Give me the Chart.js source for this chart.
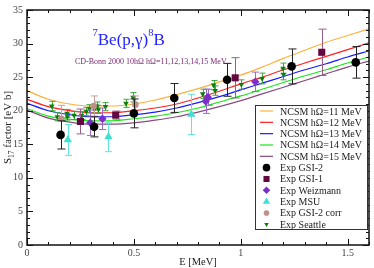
<!DOCTYPE html>
<html>
<head>
<meta charset="utf-8">
<script src="https://cdn.jsdelivr.net/npm/chart.js@4/dist/chart.umd.min.js"></script>
<style>
  html, body { margin: 0; padding: 0; background: #fff; }
  canvas { display: block; }
</style>
</head>
<body>
<canvas id="chart" width="374" height="268"></canvas>
<script>
// ------------------- DATA -------------------
const energyGrid = [0, 0.1, 0.2, 0.3, 0.4, 0.5, 0.6, 0.7, 0.8, 0.9, 1.0, 1.1, 1.2, 1.3, 1.4, 1.5, 1.6];
const ncsm11 = [23.0, 21.7, 21.0, 20.7, 20.7, 21.0, 21.6, 22.4, 23.3, 24.3, 25.3, 26.5, 27.8, 29.0, 30.2, 31.2, 32.2];
const ncsm12 = [21.7, 20.6, 20.0, 19.7, 19.7, 20.0, 20.4, 21.0, 21.9, 22.9, 24.0, 25.0, 26.1, 27.1, 28.1, 29.1, 30.1];
const ncsm13 = [21.1, 20.0, 19.4, 19.1, 19.1, 19.4, 19.8, 20.4, 21.2, 22.1, 23.1, 24.1, 25.1, 26.1, 27.0, 28.0, 28.9];
const ncsm14 = [20.3, 19.2, 18.7, 18.5, 18.5, 18.8, 19.2, 19.7, 20.4, 21.3, 22.2, 23.2, 24.2, 25.2, 26.1, 27.1, 28.0];
const ncsm15 = [20.1, 18.9, 18.3, 18.0, 18.0, 18.2, 18.6, 19.1, 19.8, 20.6, 21.5, 22.5, 23.5, 24.5, 25.5, 26.5, 27.4];

const gsi2E = [0.157, 0.314, 0.500, 0.689, 0.936, 1.238, 1.538];
const gsi2S = [16.4, 17.6, 19.6, 21.9, 24.6, 26.6, 27.2];
const gsi2Err = [2.1, 1.5, 2.15, 2.15, 2.45, 2.6, 2.35];

const gsi1E = [0.250, 0.415, 0.974, 1.379];
const gsi1S = [18.4, 19.35, 24.9, 28.7];
const gsi1Err = [1.85, 0.6, 3.0, 3.45];

const weizE = [0.296, 0.353, 0.836, 0.846, 1.068];
const weizS = [18.2, 18.8, 21.4, 22.0, 24.3];
const weizErr = [1.9, 1.6, 1.8, 1.2, 1.45];

const msuE = [0.191, 0.381, 0.769];
const msuS = [15.65, 16.1, 19.45];
const msuErr = [2.3, 2.2, 3.0];

const gsi2corrE = [0.160, 0.312, 0.507];
const gsi2corrS = [18.8, 20.7, 20.9];
const gsi2corrErr = [2.0, 1.5, 1.3];

const seattleE = [0.116, 0.142, 0.187, 0.189, 0.220, 0.255, 0.278, 0.292, 0.315, 0.326, 0.334, 0.367,
                  0.463, 0.496, 0.822, 0.873, 0.880, 1.003, 1.100, 1.198, 1.200];
const seattleS = [20.7, 19.1, 19.6, 19.1, 19.3, 19.3, 19.9, 20.3, 20.2, 20.7, 20.2, 20.6,
                  21.1, 22.0, 22.5, 23.8, 23.0, 23.9, 24.8, 26.3, 25.4];
const seattleErr = [0.7, 0.6, 0.6, 0.5, 0.6, 0.6, 0.6, 0.6, 0.6, 0.6, 0.6, 0.6,
                    0.6, 0.7, 0.7, 0.7, 0.7, 0.7, 0.8, 0.8, 0.8];

const xTicks = [0, 0.5, 1, 1.5];
const yTicks = [0, 5, 10, 15, 20, 25, 30, 35];

const SERIF = "'Liberation Serif', 'Times New Roman', serif";

// ------------------- DATASETS -------------------
function pts(xs, ys) {
    return xs.map((x, i) => ({ x: x, y: ys[i] }));
}

function curve(label, values, color) {
    return {
        label: label,
        data: pts(energyGrid, values),
        showLine: true,
        borderColor: color,
        borderWidth: 1.2,
        pointRadius: 0,
        cubicInterpolationMode: 'monotone',
        order: 2
    };
}

function markers(label, xs, ys, errs, opts) {
    return Object.assign({
        label: label,
        data: pts(xs, ys),
        errors: errs,
        showLine: false,
        borderWidth: 0,
        order: 1
    }, opts);
}

const datasets = [
    curve('NCSM hΩ=11 MeV', ncsm11, '#ffb03c'),
    curve('NCSM hΩ=12 MeV', ncsm12, '#ff2020'),
    curve('NCSM hΩ=13 MeV', ncsm13, '#1a1aff'),
    curve('NCSM hΩ=14 MeV', ncsm14, '#19e619'),
    curve('NCSM hΩ=15 MeV', ncsm15, '#8a4a7e'),
    markers('Exp GSI-2', gsi2E, gsi2S, gsi2Err, {
        pointStyle: 'circle', pointRadius: 4.3, backgroundColor: '#000',
        errColor: '#222', cap: 4, legendR: 3.8
    }),
    markers('Exp GSI-1', gsi1E, gsi1S, gsi1Err, {
        pointStyle: 'rect', pointRadius: 5, backgroundColor: '#62083f',
        errColor: '#9a5c88', cap: 4, legendR: 4.3
    }),
    markers('Exp Weizmann', weizE, weizS, weizErr, {
        pointStyle: 'rectRot', pointRadius: 4.2, backgroundColor: '#7a2fc8',
        errColor: '#9a68d2', cap: 3.5, legendR: 3.8
    }),
    markers('Exp MSU', msuE, msuS, msuErr, {
        pointStyle: 'triangle', pointRadius: 4.8, backgroundColor: '#3fe0cf',
        errColor: '#5fe6d8', cap: 3.5, legendR: 4.2
    }),
    markers('Exp GSI-2 corr', gsi2corrE, gsi2corrS, gsi2corrErr, {
        pointStyle: 'circle', pointRadius: 3.3, backgroundColor: '#c09088',
        errColor: '#c8a09a', cap: 3.5, legendR: 2.8
    }),
    markers('Exp Seattle', seattleE, seattleS, seattleErr, {
        pointStyle: 'triangle', rotation: 180, pointRadius: 3.2, backgroundColor: '#0a800a',
        errColor: '#3aa83a', cap: 3, legendR: 2.6
    })
];

// ------------------- PLUGINS -------------------
const errorBars = {
    id: 'errorBars',
    beforeDatasetDraw(chart, args) {
        const ds = chart.data.datasets[args.index];
        if (!ds.errors) return;
        const ctx = chart.ctx, xs = chart.scales.x, ys = chart.scales.y;
        const a = chart.chartArea;
        ctx.save();
        ctx.beginPath();
        ctx.rect(a.left, a.top, a.right - a.left, a.bottom - a.top);
        ctx.clip();
        ctx.strokeStyle = ds.errColor;
        ctx.lineWidth = 1;
        ds.data.forEach((p, i) => {
            const px = Math.round(xs.getPixelForValue(p.x)) + 0.5;
            const y1 = ys.getPixelForValue(p.y + ds.errors[i]);
            const y2 = ys.getPixelForValue(p.y - ds.errors[i]);
            ctx.beginPath();
            ctx.moveTo(px, y1); ctx.lineTo(px, y2);
            ctx.moveTo(px - ds.cap, y1); ctx.lineTo(px + ds.cap, y1);
            ctx.moveTo(px - ds.cap, y2); ctx.lineTo(px + ds.cap, y2);
            ctx.stroke();
        });
        ctx.restore();
    }
};

const decorations = {
    id: 'decorations',
    afterDraw(chart) {
        const ctx = chart.ctx, xs = chart.scales.x, ys = chart.scales.y;
        const a = chart.chartArea;
        ctx.save();

        // frame and inward ticks on all four sides
        ctx.strokeStyle = '#111';
        ctx.lineWidth = 1;
        ctx.beginPath();
        for (let v = 0; v <= 16; v++) {
            const px = Math.round(xs.getPixelForValue(v / 10)) + 0.5;
            const len = v % 5 === 0 ? 6 : 3;
            ctx.moveTo(px, a.bottom); ctx.lineTo(px, a.bottom - len);
            ctx.moveTo(px, a.top); ctx.lineTo(px, a.top + len);
        }
        for (let v = 0; v <= 35; v++) {
            const py = Math.round(ys.getPixelForValue(v)) + 0.5;
            const len = v % 5 === 0 ? 6 : 3;
            ctx.moveTo(a.left, py); ctx.lineTo(a.left + len, py);
            ctx.moveTo(a.right, py); ctx.lineTo(a.right - len, py);
        }
        ctx.stroke();
        ctx.lineWidth = 1.5;
        ctx.strokeRect(a.left, a.top, a.right - a.left, a.bottom - a.top);

        // axis titles
        ctx.fillStyle = '#222';
        ctx.textBaseline = 'alphabetic';
        ctx.font = '10.5px ' + SERIF;
        ctx.textAlign = 'center';
        ctx.fillText('E [MeV]', (a.left + a.right) / 2, 265);

        ctx.save();
        ctx.translate(11, (a.top + a.bottom) / 2);
        ctx.rotate(-Math.PI / 2);
        ctx.textAlign = 'left';
        ctx.font = '11px ' + SERIF;
        const s1 = 'S', s3 = ' factor [eV b]';
        ctx.font = '11px ' + SERIF;
        const w1 = ctx.measureText(s1).width, w3 = ctx.measureText(s3).width;
        ctx.font = '7.5px ' + SERIF;
        const w2 = ctx.measureText('17').width;
        let x0 = -(w1 + w2 + w3) / 2;
        ctx.font = '11px ' + SERIF;
        ctx.fillText(s1, x0, 0);
        ctx.font = '7.5px ' + SERIF;
        ctx.fillText('17', x0 + w1, 2.5);
        ctx.font = '11px ' + SERIF;
        ctx.fillText(s3, x0 + w1 + w2, 0);
        ctx.restore();

        // title 7Be(p,γ)8B
        ctx.textAlign = 'left';
        ctx.fillStyle = '#2222ff';
        let tx = 92.5;
        ctx.font = '10.5px ' + SERIF;
        ctx.fillText('7', tx, 35.5);
        tx += ctx.measureText('7').width;
        ctx.font = '17px ' + SERIF;
        ctx.fillText('Be(p,γ)', tx, 45);
        tx += ctx.measureText('Be(p,γ)').width;
        ctx.font = '10.5px ' + SERIF;
        ctx.fillText('8', tx, 35.5);
        tx += ctx.measureText('8').width;
        ctx.font = '17px ' + SERIF;
        ctx.fillText('B', tx, 45);

        ctx.fillStyle = '#7a2870';
        ctx.font = '8px ' + SERIF;
        ctx.fillText('CD-Bonn 2000 10hΩ hΩ=11,12,13,14,15 MeV', 75, 63.5);

        // legend box
        const lx = 255, ly = 105, lw = 112, lh = 124;
        ctx.fillStyle = '#fff';
        ctx.fillRect(lx, ly, lw, lh);
        ctx.strokeStyle = '#333';
        ctx.lineWidth = 1;
        ctx.strokeRect(lx + 0.5, ly + 0.5, lw, lh);
        ctx.font = '10px ' + SERIF;
        chart.data.datasets.forEach((ds, i) => {
            const yy = 111 + i * 11.33;
            if (ds.showLine) {
                ctx.strokeStyle = ds.borderColor;
                ctx.lineWidth = 1.2;
                ctx.beginPath();
                ctx.moveTo(260, yy); ctx.lineTo(273, yy);
                ctx.stroke();
            } else {
                ctx.fillStyle = ds.backgroundColor;
                Chart.helpers.drawPoint(ctx, {
                    pointStyle: ds.pointStyle, radius: ds.legendR,
                    rotation: ds.rotation || 0, borderWidth: 0
                }, 266.5, yy);
            }
            ctx.fillStyle = '#222';
            ctx.fillText(ds.label, 280, yy + 3.5);
        });

        ctx.restore();
    }
};

// ------------------- CHART -------------------
new Chart(document.getElementById('chart'), {
    type: 'scatter',
    data: { datasets: datasets },
    options: {
        responsive: false,
        animation: false,
        layout: { padding: { top: 5, right: 1, left: 0, bottom: 0 } },
        plugins: {
            legend: { display: false },
            tooltip: { enabled: false }
        },
        scales: {
            x: {
                type: 'linear', min: 0, max: 1.6,
                afterFit: s => { s.height = 23; },
                afterBuildTicks: s => { s.ticks = xTicks.map(v => ({ value: v })); },
                grid: { display: false, drawTicks: false },
                border: { display: false },
                ticks: {
                    padding: 2,
                    color: '#444',
                    font: { family: SERIF, size: 10 },
                    callback: v => String(v)
                }
            },
            y: {
                type: 'linear', min: 0, max: 35,
                afterFit: s => { s.width = 27; },
                afterBuildTicks: s => { s.ticks = yTicks.map(v => ({ value: v })); },
                grid: { display: false, drawTicks: false },
                border: { display: false },
                ticks: {
                    padding: 4,
                    color: '#444',
                    font: { family: SERIF, size: 10 },
                    callback: v => String(v)
                }
            }
        }
    },
    plugins: [errorBars, decorations]
});
</script>
</body>
</html>
